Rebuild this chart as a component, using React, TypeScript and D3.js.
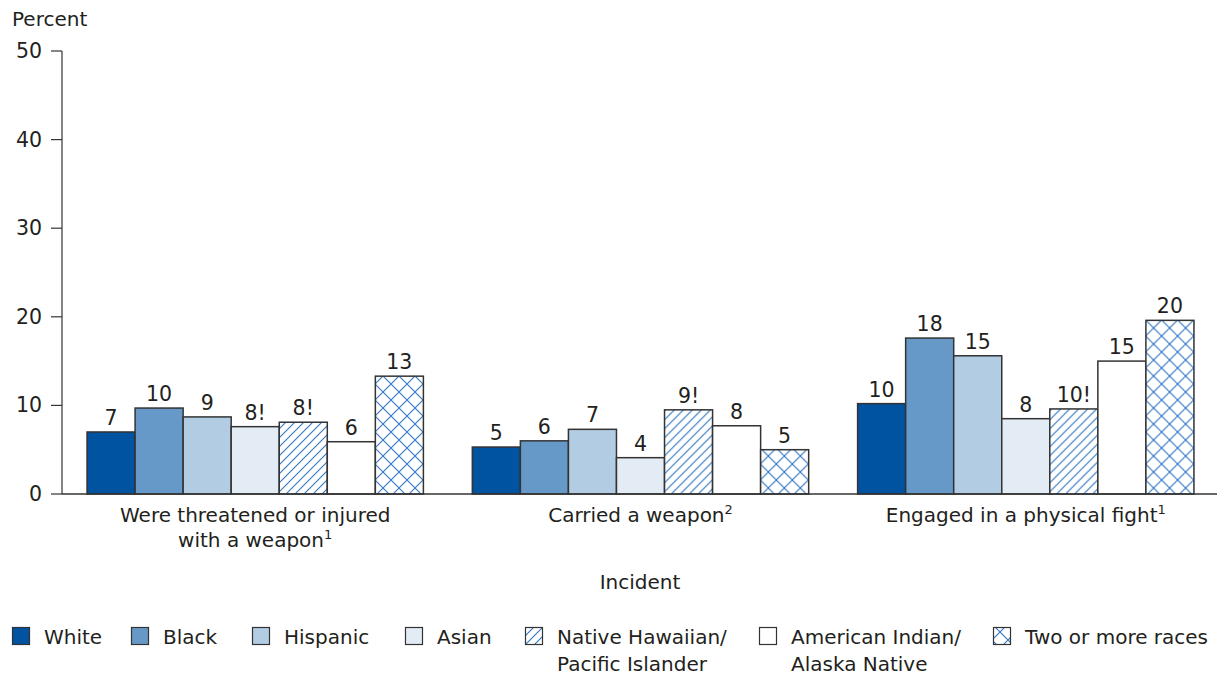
import React from "react";
import * as d3 from "d3";

const categories = ["Were threatened or injured|with a weapon", "Carried a weapon", "Engaged in a physical fight"];
const categorySup = ["1", "2", "1"];
const races = ["White", "Black", "Hispanic", "Asian", "Native Hawaiian/|Pacific Islander", "American Indian/|Alaska Native", "Two or more races"];
const threatened = [7.0, 9.7, 8.7, 7.6, 8.1, 5.9, 13.3];
const carried = [5.3, 6.0, 7.3, 4.1, 9.5, 7.7, 5.0];
const fight = [10.2, 17.6, 15.6, 8.5, 9.6, 15.0, 19.6];
const threatenedLabels = ["7", "10", "9", "8!", "8!", "6", "13"];
const carriedLabels = ["5", "6", "7", "4", "9!", "8", "5"];
const fightLabels = ["10", "18", "15", "8", "10!", "15", "20"];
const yTicks = [0, 10, 20, 30, 40, 50];

const seriesValues = [threatened, carried, fight];
const seriesLabels = [threatenedLabels, carriedLabels, fightLabels];

const fills = ["#0053A1", "#6699C8", "#B2CCE3", "#E3EBF5", "url(#hatch)", "#FFFFFF", "url(#cross)"];
const legendX = [12, 131, 252, 405, 525, 759, 993];

const FONT = "'DejaVu Sans', 'Liberation Sans', Arial, sans-serif";
const TXT = "#231F20";
const FS = 20;

export default function App() {
  const W = 1217, H = 677;
  const y = d3.scaleLinear().domain([0, 50]).range([494, 51]);
  const x0 = d3.scaleBand<number>().domain([0, 1, 2]).range([62, 1219]).paddingInner(0.127).paddingOuter(0.065);
  const x1 = d3.scaleBand<number>().domain(d3.range(7)).range([0, x0.bandwidth()]);

  return (
    <svg width={W} height={H} style={{ position: "absolute", left: 0, top: 0, background: "#fff" }} fontFamily={FONT}>
      <defs>
        <pattern id="hatch" patternUnits="userSpaceOnUse" width="9" height="9">
          <rect width="9" height="9" fill="#fff" />
          <path d="M-1,10 L10,-1 M-3,3 L3,-3 M6,12 L12,6" stroke="#2F75C2" strokeWidth="1.1" />
        </pattern>
        <pattern id="cross" patternUnits="userSpaceOnUse" width="16" height="16">
          <rect width="16" height="16" fill="#fff" />
          <path d="M0,0 L16,16 M16,0 L0,16" stroke="#2F75C2" strokeWidth="1.1" />
        </pattern>
      </defs>
      <text x={12} y={26} fontSize={FS} fill={TXT}>Percent</text>
      {/* y axis */}
      <line x1={62} x2={62} y1={51} y2={494} stroke="#333" strokeWidth={1.2} />
      {yTicks.map((t) => (
        <g key={t}>
          <line x1={51} x2={62} y1={y(t)} y2={y(t)} stroke="#333" strokeWidth={1.2} />
          <text x={42} y={y(t) + 7} fontSize={20.5} textAnchor="end" fill={TXT}>{t}</text>
        </g>
      ))}
      {/* bars */}
      {seriesValues.map((vals, gi) => (
        <g key={gi} transform={`translate(${x0(gi)},0)`}>
          {vals.map((v, i) => (
            <g key={i}>
              <rect x={x1(i)} y={y(v)} width={x1.bandwidth()} height={y(0) - y(v)} fill={fills[i]} stroke="#333" strokeWidth={1.5} />
              <text x={(x1(i) as number) + x1.bandwidth() / 2} y={y(v) - 7} fontSize={20.5} textAnchor="middle" fill={TXT}>{seriesLabels[gi][i]}</text>
            </g>
          ))}
        </g>
      ))}
      <line x1={62} x2={1217} y1={494} y2={494} stroke="#333" strokeWidth={1.5} />
      {/* category labels */}
      {categories.map((c, gi) => {
        const cx = (x0(gi) as number) + x0.bandwidth() / 2;
        const lines = c.split("|");
        return (
          <text key={gi} x={cx} textAnchor="middle" fontSize={FS} fill={TXT}>
            {lines.map((l, li) => (
              <tspan key={li} x={cx} y={522 + li * 25}>
                {l}
                {li === lines.length - 1 && (
                  <tspan fontSize={13} dy={-8}>{categorySup[gi]}</tspan>
                )}
              </tspan>
            ))}
          </text>
        );
      })}
      <text x={640} y={589} fontSize={FS} textAnchor="middle" fill={TXT}>Incident</text>
      {/* legend */}
      {races.map((r, i) => (
        <g key={i}>
          <rect x={legendX[i] + 0.5} y={627.5} width={17} height={17} fill={fills[i]} stroke="#333" strokeWidth={1.2} />
          <text fontSize={FS} fill={TXT}>
            {r.split("|").map((l, li) => (
              <tspan key={li} x={legendX[i] + 32} y={644 + li * 27}>{l}</tspan>
            ))}
          </text>
        </g>
      ))}
    </svg>
  );
}
